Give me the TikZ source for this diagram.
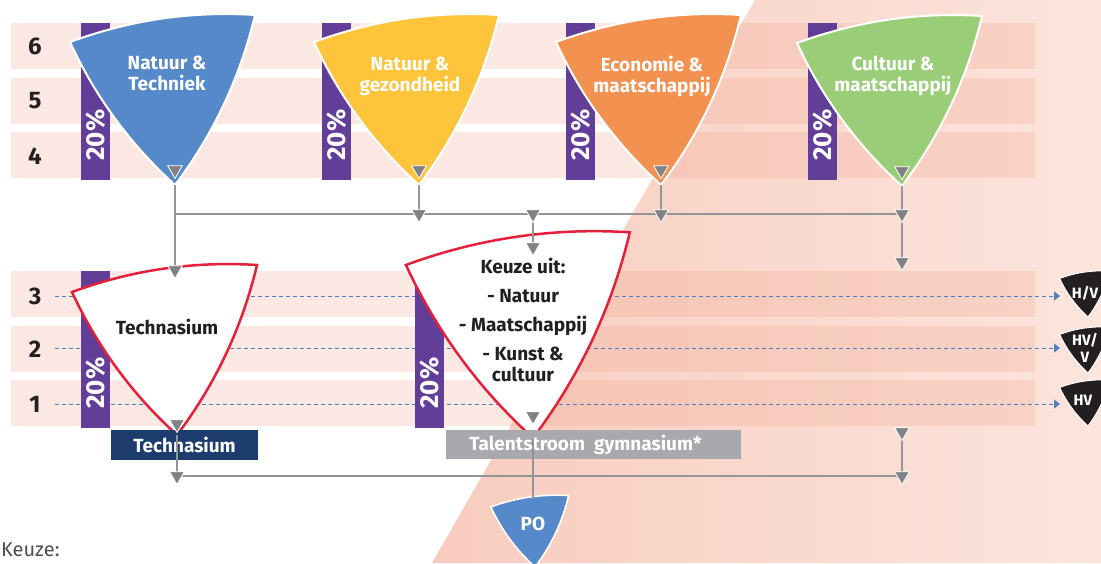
\documentclass[tikz,border=0pt]{standalone}
\usepackage{fontspec}
\setmainfont{Fira Sans}
\usetikzlibrary{shapes.geometric,arrows.meta}

\definecolor{bandpink}{HTML}{F2A48C}
\definecolor{salmonL}{HTML}{F8CCBE}
\definecolor{salmonR}{HTML}{FCE5DD}
\definecolor{ntblue}{HTML}{5589C9}
\definecolor{ngyellow}{HTML}{FDC43C}
\definecolor{emorange}{HTML}{F29150}
\definecolor{cmgreen}{HTML}{9ACD78}
\definecolor{pctpurple}{HTML}{633E98}
\definecolor{keuzered}{HTML}{E4203A}
\definecolor{technavy}{HTML}{1D3C6E}
\definecolor{tsgray}{HTML}{A7A9AC}
\definecolor{linegray}{HTML}{939598}
\definecolor{markgray}{HTML}{808285}
\definecolor{dashblue}{HTML}{4F7CC2}
\definecolor{inkblack}{HTML}{231F20}
\definecolor{keuzegray}{HTML}{4D4D4F}

\tikzset{
  pics/wedge/.style={code={
    \path[pic actions] (0,0) .. controls (-44.7,-40.6) and (-79.7,-88.2) .. (-105,-143)
      .. controls (-45,-165) and (16,-174) .. (80,-170)
      .. controls (65.1,-107.6) and (38.5,-51) .. cycle;
  }},
  band/.style={fill=bandpink,fill opacity=0.25},
  pctbar/.style={fill=pctpurple},
  pctlabel/.style={text=white,font=\fontsize{26}{26}\selectfont\bfseries,rotate=90},
  rowlabel/.style={text=inkblack,font=\fontsize{24}{24}\selectfont\bfseries},
  wlabel/.style={text=white,font=\fontsize{19}{21}\selectfont\bfseries,align=center},
  arrowmark/.style={regular polygon,regular polygon sides=3,shape border rotate=180,
    fill=markgray,draw=white,line width=0.8pt,minimum size=17pt,inner sep=0pt},
  conn/.style={draw=linegray,line width=1.6pt},
  dashto/.style={draw=dashblue,line width=1pt,dash pattern=on 4pt off 3pt,
    -{Triangle[length=6pt,width=9pt]}},
  levelbox/.style={minimum height=30pt,inner sep=0pt,text=white,
    font=\fontsize{19}{21}\selectfont\bfseries},
}

\begin{document}
\begin{tikzpicture}[x=1pt,y=-1pt]
  \useasboundingbox (0,0) rectangle (1101,563);
  \clip (0,0) rectangle (1101,563);

  % achtergrond
  \shade[left color=salmonL,right color=salmonR] (755,0) -- (432,563) -- (1101,563) -- (1101,0) -- cycle;
  \foreach \ya in {23,78,132,271,326,380}
    \path[band] (11,\ya) rectangle (1035,\ya+46);
  \foreach \r/\ya in {6/46,5/101,4/156,3/296,2/349,1/404}
    \node[rowlabel] (row\r) at (35,\ya) {\r};

  % stippellijnen naar de profielen
  \coordinate (s3) at (55,296);  \coordinate (e3) at (1060,296);
  \coordinate (s2) at (55,348);  \coordinate (e2) at (1060,348);
  \coordinate (s1) at (55,404);  \coordinate (e1) at (1060,404);
  \draw[dashto] (s3) -- (e3);
  \draw[dashto] (s2) -- (e2);
  \draw[dashto] (s1) -- (e1);

  % 20% balken
  \foreach \n/\xa/\ya in {a/81/23,b/322/23,c/566/23,d/808/23,e/81/271,f/415/271}{
    \path[pctbar] (\xa,\ya) rectangle ++(29,157);
    \node[pctlabel] (pct\n) at (\xa+14.5,\ya+112) {20\%};
  }

  % bovenbouw
  \pic[fill=ntblue,draw=white,line width=2pt] at (175,185) {wedge};
  \pic[fill=ngyellow,draw=white,line width=2pt] at (419,185) {wedge};
  \pic[fill=emorange,draw=white,line width=2pt] at (661,185) {wedge};
  \pic[fill=cmgreen,draw=white,line width=2pt] at (902,186) {wedge};
  \node[wlabel] (NT) at (167,73) {Natuur \&\\Techniek};
  \node[wlabel] (NG) at (410,76) {Natuur \&\\gezondheid};
  \node[wlabel] (EM) at (652,76) {Economie \&\\maatschappij};
  \node[wlabel] (CM) at (893,76) {Cultuur \&\\maatschappij};

  % onderbouw
  \pic[fill=white,draw=keuzered,line width=2.5pt] at (177,435) {wedge};
  \pic[fill=white,draw=keuzered,line width=2.5pt,scale=1.21] at (533,438) {wedge};
  \node[wlabel,text=inkblack] (Tech) at (167,327) {Technasium};
  \node[wlabel,text=inkblack] (Keuze) at (523,320)
    {Keuze uit:\\[8pt]- Natuur\\[8pt]- Maatschappij\\[8pt]- Kunst \&\\cultuur};
  \node[levelbox,fill=technavy,minimum width=147pt] (boxTech) at (184.5,445) {Technasium};
  \node[levelbox,fill=tsgray,minimum width=295pt,minimum height=29pt] (boxTS) at (593.5,444.5)
    {\hspace*{-16pt}Talentstroom\ \ gymnasium*};

  \pic[fill=ntblue,draw=white,line width=1.5pt,scale=0.42] at (535,567) {wedge};
  \node[wlabel] (PO) at (533,524) {PO};
  \foreach \n/\ya in {3/317,2/373,1/426}
    \pic[fill=inkblack,draw=white,line width=1pt,scale=0.27] at (1088,\ya) {wedge};
  \node[wlabel,font=\fontsize{15}{17}\selectfont\bfseries] (HV3) at (1085,293) {H/V};
  \node[wlabel,font=\fontsize{15}{17}\selectfont\bfseries] (HV2) at (1085,348) {HV/\\V};
  \node[wlabel,font=\fontsize{15}{17}\selectfont\bfseries] (HV1) at (1083,400) {HV};

  \node[anchor=base west,inner sep=0pt,text=keuzegray,font=\fontsize{20}{20}\selectfont] (keuzenote) at (1,556) {Keuze:};

  % verbindingen
  \coordinate (tNT) at (175,185);  \coordinate (tNG) at (419,185);
  \coordinate (tEM) at (661,185);  \coordinate (tCM) at (902,186);
  \coordinate (jNT) at (175,214);
  \coordinate (kNT) at (175,170);  \coordinate (kNG) at (419,170);
  \coordinate (kEM) at (661,170);  \coordinate (kCM) at (902,171);
  \coordinate (hNG) at (419,214);  \coordinate (hK) at (533,214);
  \coordinate (hEM) at (661,214);  \coordinate (hCM) at (902,214);
  \coordinate (dTech) at (175,270); \coordinate (dKeuze) at (533,247);
  \coordinate (dRow3) at (902,262);
  \coordinate (tTech) at (177,435); \coordinate (kTech) at (177,424);
  \coordinate (tKeuze) at (533,438); \coordinate (kKeuze) at (533,416);
  \coordinate (bTech) at (177,476); \coordinate (bR1) at (902,432);
  \coordinate (bR2) at (902,476);   \coordinate (pPO) at (533,499);

  \draw[conn] (tNT) -- (dTech);
  \draw[conn] (jNT) -- (hCM);
  \draw[conn] (tNG) -- (hNG);
  \draw[conn] (tEM) -- (hEM);
  \draw[conn] (tCM) -- (dRow3);
  \draw[conn] (hK) -- (dKeuze);
  \draw[conn] (tTech) -- (bTech);
  \draw[conn] (bTech) -- (bR2);
  \draw[conn] (bR1) -- (bR2);
  \draw[conn] (tKeuze) -- (pPO);

  \foreach \m in {kNT,kNG,kEM,kCM,hNG,hK,hEM,hCM,dTech,dKeuze,dRow3,kTech,kKeuze,bTech,bR1,bR2}
    \node[arrowmark] (m\m) at (\m) {};
\end{tikzpicture}
\end{document}
